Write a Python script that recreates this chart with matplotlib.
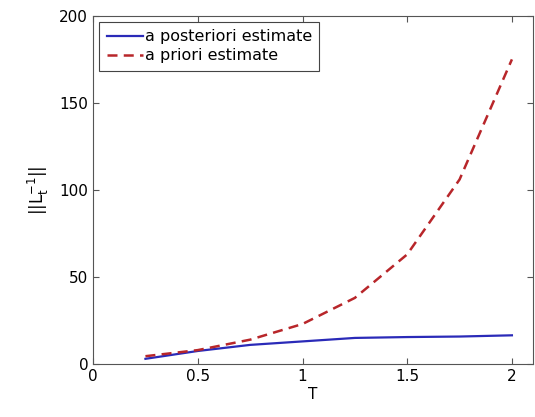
import numpy as np
import matplotlib
matplotlib.use("Agg")
import matplotlib.pyplot as plt

# Data
T = [0.25, 0.5, 0.75, 1.0, 1.25, 1.5, 1.75, 2.0]
posteriori = [3.0, 7.5, 11.0, 13.0, 15.0, 15.5, 15.8, 16.5]
priori = [4.5, 8.0, 14.0, 23.0, 38.0, 63.0, 106.0, 175.0]

plt.rcParams['font.family'] = ['DejaVu Sans']

fig = plt.figure(figsize=(5.35, 4.17), dpi=100)
ax = fig.add_axes([0.174, 0.127, 0.822, 0.835])

ax.plot(T, posteriori, '-', color='#2a2ab8', lw=1.6, label="a posteriori estimate")
ax.plot(T, priori, '--', color='#b8262a', lw=1.8, dashes=(4, 2.5), label="a priori estimate")

ax.set_xlim(0, 2.1)
ax.set_ylim(0, 200)
ax.set_xticks([0, 0.5, 1, 1.5, 2])
ax.set_xticklabels(['0', '0.5', '1', '1.5', '2'])
ax.set_yticks([0, 50, 100, 150, 200])
ax.tick_params(direction='in', top=True, right=True, labelsize=11, length=4, color='#555555')
for s in ax.spines.values():
    s.set_color('#555555')

ax.set_xlabel("T", fontsize=11, labelpad=2)
ax.set_ylabel(r"$\mathregular{||L_t^{-1}||}$", fontsize=12, labelpad=6)

leg = ax.legend(loc='upper left', fontsize=11.5, handlelength=2.3, fancybox=False,
                edgecolor='#444444', framealpha=1, borderaxespad=0.4, handletextpad=0.1,
                labelspacing=0.25, borderpad=0.45)
leg.get_frame().set_linewidth(0.8)

fig.savefig("out.png", dpi=100)
